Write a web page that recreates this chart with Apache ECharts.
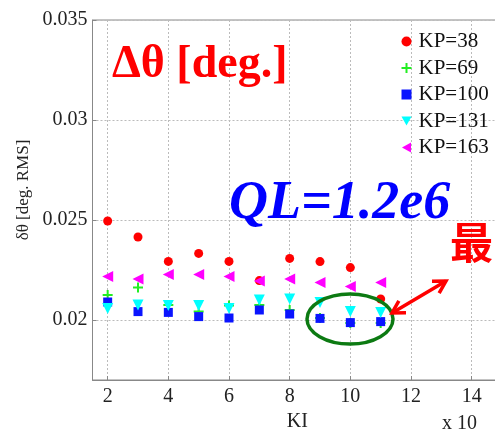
<!DOCTYPE html>
<html>
<head>
<meta charset="utf-8">
<script src="https://cdn.jsdelivr.net/npm/echarts@6/dist/echarts.min.js"></script>
<style>
html,body{margin:0;padding:0;background:#fff;}
#main{width:495px;height:431px;}
</style>
</head>
<body>
<div id="main"></div>
<script>
// ---- data ----
const kiValues = [2, 3, 4, 5, 6, 7, 8, 9, 10, 11];
const seriesNames = ['KP=38', 'KP=69', 'KP=100', 'KP=131', 'KP=163'];
const kp38  = [0.02495, 0.02415, 0.02293, 0.02333, 0.02293, 0.02197, 0.02308, 0.02292, 0.02262, 0.02105];
const kp69  = [0.02125, 0.02163, 0.02075, 0.02042, 0.02073, 0.02075, 0.02050, 0.02010, 0.01985, 0.01985];
const kp100 = [0.02090, 0.02042, 0.02038, 0.02017, 0.02010, 0.02050, 0.02030, 0.02008, 0.01987, 0.01992];
const kp131 = [0.02058, 0.02075, 0.02072, 0.02072, 0.02058, 0.02100, 0.02105, 0.02087, 0.02042, 0.02038];
const kp163 = [0.02217, 0.02205, 0.02228, 0.02228, 0.02217, 0.02195, 0.02205, 0.02188, 0.02167, 0.02187];
const xTicks = [2, 4, 6, 8, 10, 12, 14];
const yTicks = [0.02, 0.025, 0.03, 0.035];

const chart = echarts.init(document.getElementById('main'), null, {renderer: 'canvas'});
const serif = '"Liberation Serif", "Times New Roman", serif';
const plusPath = 'path://M4,0H6V4H10V6H6V10H4V6H0V4H4Z';
const downTri = 'path://M0,0L10,0L5,9Z';
const leftTri = 'path://M9,0L9,10L0,5Z';

function pairs(arr) { return kiValues.map((k, i) => [k, arr[i]]); }

const styles = [
  {data: kp38,  symbol: 'circle', size: 9,  legendIcon: 'circle', color: '#ff0000'},
  {data: kp69,  symbol: plusPath, size: 10, legendIcon: plusPath, color: '#22ee22'},
  {data: kp100, symbol: 'rect',   size: 9,  legendIcon: 'rect',   color: '#0a14ff'},
  {data: kp131, symbol: downTri,  size: 11, legendIcon: downTri,  color: '#00ffff'},
  {data: kp163, symbol: leftTri,  size: 11, legendIcon: leftTri,  color: '#ff00ff'}
];

// arrow geometry (annotation)
const a1 = [392, 313], a2 = [446, 281];
function head(p, q) {
  const dx = q[0] - p[0], dy = q[1] - p[1];
  const L = Math.hypot(dx, dy), ux = dx / L, uy = dy / L;
  const len = 14, ang = Math.PI / 6;
  const r = (c, s) => [p[0] + len * (ux * c - uy * s), p[1] + len * (ux * s + uy * c)];
  return [r(Math.cos(ang), Math.sin(ang)), p, r(Math.cos(-ang), Math.sin(-ang))];
}

const option = {
  animation: false,
  backgroundColor: '#fff',
  grid: {left: 92.5, top: 20, right: -7, bottom: 51, show: true, borderColor: '#888', borderWidth: 1,
    containLabel: false, outerBoundsMode: 'none'},
  xAxis: {
    type: 'value', min: 1.5, max: 15,
    name: 'KI', nameLocation: 'middle', nameGap: 24,
    nameTextStyle: {fontFamily: serif, fontSize: 20, color: '#222'},
    axisLine: {show: true, onZero: false, lineStyle: {color: '#888'}},
    axisTick: {show: true, inside: true, length: 4, customValues: xTicks, lineStyle: {color: '#888'}},
    axisLabel: {customValues: xTicks, fontFamily: serif, fontSize: 20, color: '#222', margin: 7},
    splitLine: {show: true, lineStyle: {color: '#bbb', type: [2, 2], width: 1}}
  },
  yAxis: {
    type: 'value', min: 0.017, max: 0.035,
    name: 'δθ [deg. RMS]', nameLocation: 'middle', nameGap: 55,
    nameTextStyle: {fontFamily: serif, fontSize: 17, color: '#222', padding: [0, 0, 0, 20]},
    axisLine: {show: true, onZero: false, lineStyle: {color: '#888'}},
    axisTick: {show: true, inside: true, length: 4, customValues: yTicks, lineStyle: {color: '#888'}},
    axisLabel: {customValues: yTicks, fontFamily: serif, fontSize: 20, color: '#222', margin: 5,
      formatter: v => String(+v.toFixed(3))},
    splitLine: {show: true, lineStyle: {color: '#bbb', type: [2, 2], width: 1}}
  },
  legend: {
    orient: 'vertical', left: 396.5, top: 26,
    itemWidth: 10, itemHeight: 10, itemGap: 5.5,
    textStyle: {fontFamily: serif, fontSize: 21, color: '#111', lineHeight: 20, padding: [0, 0, 0, 2]},
    data: seriesNames.map((n, i) => ({name: n, icon: styles[i].legendIcon}))
  },
  series: styles.map((s, i) => ({
    name: seriesNames[i], type: 'scatter', data: pairs(s.data),
    symbol: s.symbol, symbolSize: s.size,
    itemStyle: {color: s.color, opacity: 1},
    z: 2 + i
  })),
  graphic: [
    {type: 'text', left: 112, top: 42, z: 10,
      style: {text: 'Δθ [deg.]', fill: '#ff0000', font: 'bold 46px ' + serif}},
    {type: 'text', left: 229, top: 177, z: 10,
      style: {text: 'QL=1.2e6', fill: '#0000ff', font: 'italic bold 54px ' + serif}},
    {type: 'text', left: 450, top: 221, z: 10,
      style: {text: '最', fill: '#ff0000', font: 'bold 43px "Noto Sans CJK SC", sans-serif'}},
    {type: 'text', left: 442, top: 414, z: 10,
      style: {text: 'x 10', fill: '#222', font: '20px ' + serif}},
    {type: 'ellipse', z: 10, shape: {cx: 350, cy: 319, rx: 43, ry: 25},
      style: {fill: null, stroke: '#0c7a12', lineWidth: 3.5}},
    {type: 'polyline', z: 10, shape: {points: [a1, a2]},
      style: {stroke: '#ff0000', lineWidth: 3.5, fill: null}},
    {type: 'polyline', z: 10, shape: {points: head(a1, a2)},
      style: {stroke: '#ff0000', lineWidth: 3.5, fill: null}},
    {type: 'polyline', z: 10, shape: {points: head(a2, a1)},
      style: {stroke: '#ff0000', lineWidth: 3.5, fill: null}}
  ]
};
chart.setOption(option);
</script>
</body>
</html>
